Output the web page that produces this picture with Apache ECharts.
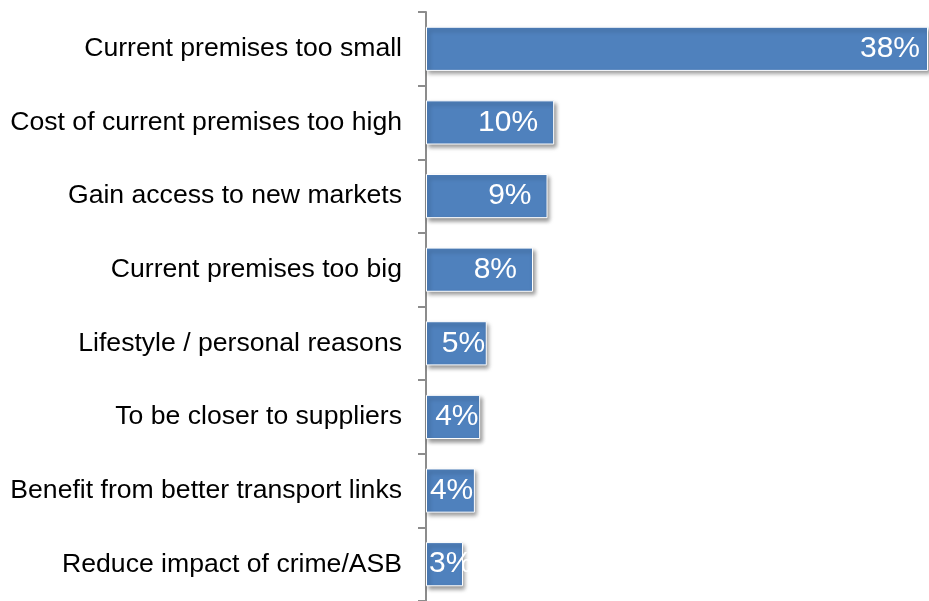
<!DOCTYPE html>
<html>
<head>
<meta charset="utf-8">
<script src="https://cdn.jsdelivr.net/npm/echarts@6/dist/echarts.min.js"></script>
<style>
  html, body { margin: 0; padding: 0; background: #ffffff; }
  #chart { width: 929px; height: 601px; }
</style>
</head>
<body>
<div id="chart"></div>
<script>
// Reasons for moving premises (share of respondents, %)
const categories = [
  'Current premises too small',
  'Cost of current premises too high',
  'Gain access to new markets',
  'Current premises too big',
  'Lifestyle / personal reasons',
  'To be closer to suppliers',
  'Benefit from better transport links',
  'Reduce impact of crime/ASB'
];
const shares = [38, 9.7, 9.2, 8.1, 4.6, 4.1, 3.7, 2.8];

const AXIS_MAX = 38;
const GRID_LEFT = 426;
const GRID_WIDTH = 502;

const chart = echarts.init(document.getElementById('chart'));

// Wide bars carry the label near their end; narrow ones start it near the axis.
const barData = shares.map(v => {
  const px = v / AXIS_MAX * GRID_WIDTH;
  const label = v >= 6
    ? { position: 'insideRight', distance: v >= 30 ? 8 : 16 }
    : { position: 'insideLeft', distance: Math.max(3, px - 45) };
  return { value: v, label: label };
});

chart.setOption({
  animation: false,
  grid: { left: GRID_LEFT, width: GRID_WIDTH, top: 12, height: 594, containLabel: false },
  xAxis: {
    type: 'value',
    min: 0,
    max: AXIS_MAX,
    show: false
  },
  yAxis: {
    type: 'category',
    data: categories,
    inverse: true,
    axisLine: { show: true, lineStyle: { color: '#8c8c8c', width: 2 } },
    axisTick: { show: true, length: 8, lineStyle: { color: '#8c8c8c', width: 2 } },
    axisLabel: {
      color: '#000000',
      fontFamily: 'Liberation Sans, Arial, sans-serif',
      fontSize: 26.6,
      margin: 24
    },
    splitLine: { show: false }
  },
  series: [{
    type: 'bar',
    data: barData,
    barCategoryGap: '40%',
    itemStyle: {
      color: '#4F81BD',
      borderColor: '#ffffff',
      borderWidth: 1,
      shadowColor: 'rgba(0,0,0,0.4)',
      shadowBlur: 4,
      shadowOffsetX: 2,
      shadowOffsetY: 3
    },
    label: {
      show: true,
      color: '#ffffff',
      fontFamily: 'Liberation Sans, Arial, sans-serif',
      fontSize: 30,
      formatter: p => Math.round(p.value) + '%'
    }
  }]
});
</script>
</body>
</html>
